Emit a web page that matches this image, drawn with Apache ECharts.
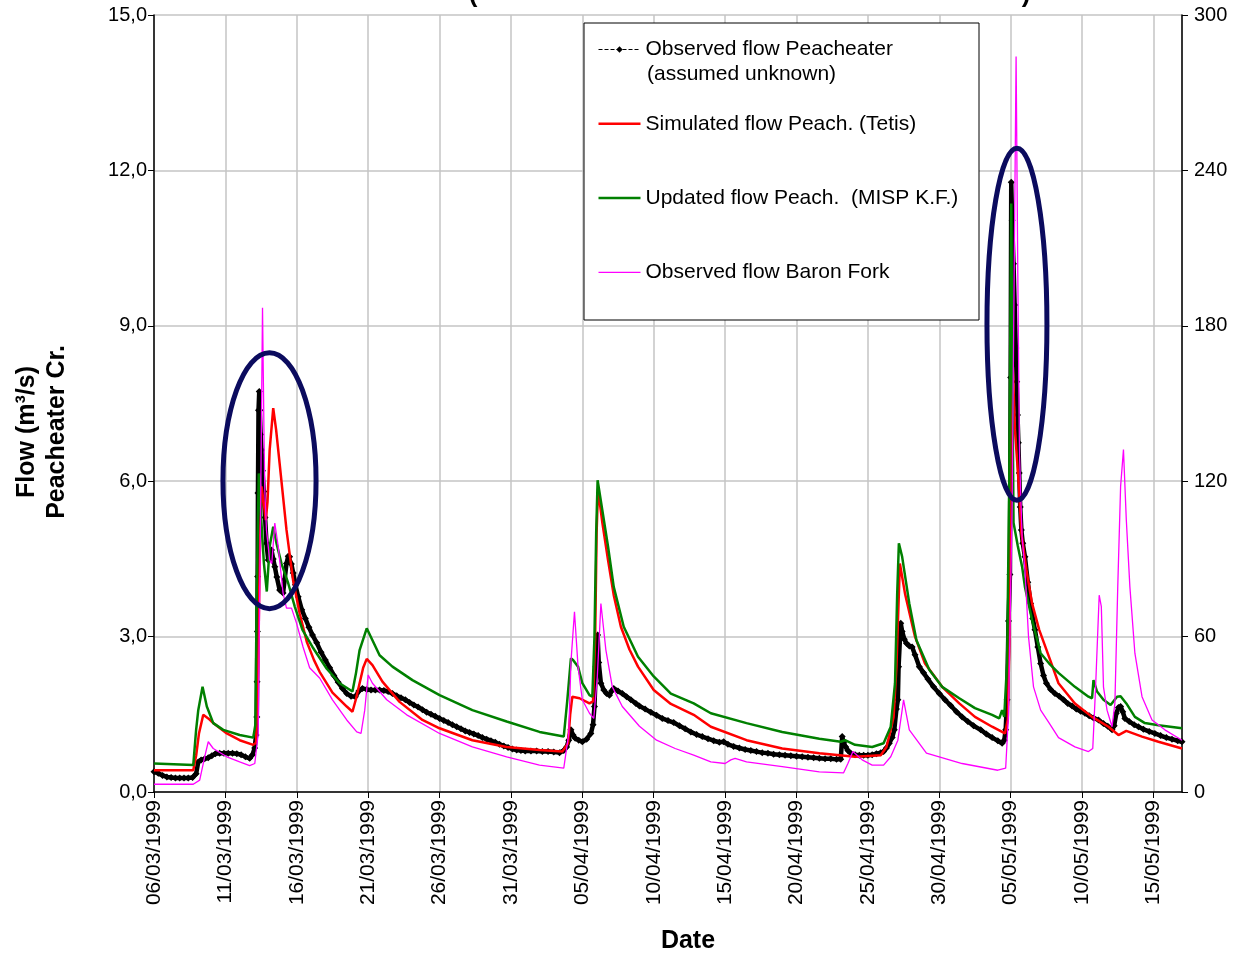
<!DOCTYPE html>
<html>
<head>
<meta charset="utf-8">
<title>Peacheater Creek - observed, simulated and updated flows</title>
<script src="https://cdn.jsdelivr.net/npm/echarts@6/dist/echarts.min.js"></script>
<style>
  html, body { margin: 0; padding: 0; background: #fff; }
  #chart { width: 1235px; height: 953px; }
</style>
</head>
<body>
<div id="chart"></div>
<script>
// x = days since 06/03/1999 00:00
const xTickLabels = ['06/03/1999', '11/03/1999', '16/03/1999', '21/03/1999', '26/03/1999',
  '31/03/1999', '05/04/1999', '10/04/1999', '15/04/1999', '20/04/1999', '25/04/1999',
  '30/04/1999', '05/05/1999', '10/05/1999', '15/05/1999'];
const leftTickLabels = ['0,0', '3,0', '6,0', '9,0', '12,0', '15,0'];
const rightTickLabels = ['0', '60', '120', '180', '240', '300'];

const seriesNames = ['Observed flow Peacheater', 'Simulated flow Peach. (Tetis)',
  'Updated flow Peach.  (MISP K.F.)', 'Observed flow Baron Fork'];

// Peacheater Cr., m3/s (left axis)
const observedPeacheater = [
  [0, 0.39], [0.3, 0.36], [0.6, 0.32], [0.9, 0.29], [1.2, 0.28], [1.5, 0.27], [1.8, 0.27],
  [2.1, 0.27], [2.4, 0.27], [2.7, 0.28], [2.95, 0.35], [3.1, 0.58], [3.3, 0.62], [3.55, 0.64],
  [3.8, 0.66], [4.05, 0.7], [4.3, 0.74], [4.6, 0.75], [4.9, 0.75], [5.2, 0.75], [5.5, 0.75],
  [5.8, 0.74], [6.1, 0.72], [6.4, 0.68], [6.7, 0.65], [6.9, 0.72], [7.05, 0.85], [7.15, 1.1],
  [7.2, 1.45], [7.22, 2.13], [7.24, 3.1], [7.26, 4.16], [7.28, 5.77], [7.32, 7.37], [7.37, 7.73],
  [7.41, 7.37], [7.47, 6.9], [7.53, 6.6], [7.6, 6.2], [7.69, 5.8], [7.78, 5.3], [7.88, 4.8],
  [8.0, 4.48], [8.12, 4.55], [8.23, 4.67], [8.35, 4.5], [8.46, 4.35], [8.6, 4.15], [8.8, 3.9],
  [9.04, 3.84], [9.15, 4.1], [9.28, 4.41], [9.4, 4.55], [9.5, 4.54], [9.62, 4.4], [9.75, 4.23],
  [9.9, 4.0], [10.1, 3.77], [10.35, 3.52], [10.6, 3.35], [10.85, 3.18], [11.1, 3.03], [11.4, 2.88],
  [11.7, 2.7], [12.0, 2.55], [12.3, 2.4], [12.6, 2.25], [12.9, 2.12], [13.2, 2.0], [13.5, 1.9],
  [13.8, 1.85], [14.1, 1.84], [14.35, 1.95], [14.6, 2.0], [14.9, 1.98], [15.2, 1.97], [15.5, 1.97],
  [15.8, 1.97], [16.1, 1.96], [16.4, 1.94], [16.7, 1.9], [17.0, 1.86], [17.3, 1.82], [17.6, 1.78],
  [17.9, 1.73], [18.2, 1.68], [18.5, 1.64], [18.8, 1.59], [19.1, 1.54], [19.4, 1.5], [19.7, 1.46],
  [20.0, 1.42], [20.3, 1.38], [20.6, 1.34], [20.9, 1.3], [21.2, 1.26], [21.5, 1.22], [21.8, 1.18],
  [22.1, 1.15], [22.4, 1.12], [22.7, 1.09], [23.0, 1.05], [23.3, 1.02], [23.6, 0.99], [23.9, 0.96],
  [24.2, 0.92], [24.5, 0.89], [24.8, 0.86], [25.1, 0.83], [25.4, 0.81], [25.7, 0.8], [26.0, 0.79],
  [26.4, 0.79], [26.8, 0.79], [27.2, 0.78], [27.6, 0.78], [28.0, 0.77], [28.4, 0.76], [28.7, 0.8],
  [28.9, 0.87], [29.05, 1.0], [29.2, 1.2], [29.35, 1.1], [29.5, 1.04], [29.75, 1.0], [30.0, 0.97],
  [30.3, 1.02], [30.6, 1.13], [30.75, 1.3], [30.85, 1.65], [30.95, 2.42], [31.07, 3.03],
  [31.15, 2.5], [31.3, 2.1], [31.5, 1.97], [31.7, 1.9], [31.9, 1.87], [32.05, 1.95], [32.2, 2.0],
  [32.5, 1.95], [32.8, 1.9], [33.1, 1.84], [33.4, 1.78], [33.75, 1.71], [34.0, 1.66], [34.4, 1.6],
  [34.8, 1.54], [35.2, 1.48], [35.6, 1.42], [36.0, 1.38], [36.4, 1.34], [36.8, 1.28], [37.2, 1.22],
  [37.6, 1.16], [38.0, 1.11], [38.4, 1.07], [38.8, 1.03], [39.2, 0.99], [39.6, 0.96], [39.9, 0.97],
  [40.2, 0.92], [40.6, 0.88], [41.0, 0.85], [41.4, 0.82], [41.8, 0.8], [42.2, 0.78], [42.6, 0.76],
  [43.0, 0.75], [43.4, 0.73], [43.8, 0.72], [44.2, 0.71], [44.6, 0.7], [45.0, 0.69], [45.4, 0.68],
  [45.8, 0.67], [46.2, 0.66], [46.6, 0.65], [47.0, 0.64], [47.4, 0.64], [47.8, 0.63], [48.1, 0.63],
  [48.2, 1.07], [48.3, 0.95], [48.45, 0.87], [48.6, 0.8], [48.8, 0.75], [49.1, 0.72], [49.4, 0.71],
  [49.7, 0.71], [50.0, 0.71], [50.3, 0.72], [50.6, 0.74], [50.9, 0.76], [51.1, 0.78], [51.3, 0.85],
  [51.5, 0.94], [51.7, 1.05], [51.85, 1.2], [52.0, 1.6], [52.1, 1.78], [52.15, 2.42], [52.3, 3.26],
  [52.4, 3.1], [52.55, 2.95], [52.7, 2.87], [52.9, 2.82], [53.1, 2.8], [53.3, 2.65], [53.6, 2.42],
  [53.9, 2.3], [54.2, 2.18], [54.6, 2.03], [55.0, 1.9], [55.4, 1.78], [55.8, 1.67], [56.2, 1.55],
  [56.6, 1.45], [57.0, 1.36], [57.4, 1.28], [57.9, 1.2], [58.3, 1.12], [58.7, 1.05], [59.1, 0.99],
  [59.4, 0.94], [59.55, 1.0], [59.65, 1.2], [59.75, 1.78], [59.85, 3.3], [59.95, 4.2], [60.0, 8.0],
  [60.04, 11.77], [60.1, 11.04], [60.2, 10.2], [60.28, 9.4], [60.36, 8.57], [60.42, 7.92],
  [60.48, 7.28], [60.54, 6.74], [60.6, 6.16], [60.67, 5.5], [60.75, 5.06], [60.85, 4.8],
  [61.0, 4.54], [61.2, 4.05], [61.4, 3.64], [61.55, 3.35], [61.7, 3.13], [61.9, 2.8], [62.1, 2.48],
  [62.3, 2.25], [62.5, 2.1], [62.8, 1.98], [63.1, 1.9], [63.4, 1.85], [63.7, 1.78], [64.0, 1.71],
  [64.3, 1.66], [64.6, 1.6], [64.9, 1.56], [65.2, 1.52], [65.5, 1.47], [65.8, 1.43], [66.15, 1.39],
  [66.5, 1.32], [66.8, 1.27], [67.1, 1.2], [67.25, 1.28], [67.4, 1.52], [67.55, 1.63], [67.7, 1.65],
  [67.85, 1.55], [68.0, 1.42], [68.3, 1.36], [68.65, 1.3], [68.95, 1.26], [69.3, 1.21], [69.7, 1.17],
  [70.1, 1.13], [70.5, 1.09], [70.9, 1.05], [71.3, 1.02], [71.7, 0.99], [72.0, 0.97]
];

const simulatedTetis = [
  [0, 0.42], [2.75, 0.42], [2.95, 0.7], [3.15, 1.13], [3.45, 1.49], [3.8, 1.42], [4.15, 1.33],
  [5.1, 1.13], [6.0, 1.0], [6.95, 0.91], [7.15, 0.95], [7.3, 2.5], [7.4, 4.5], [7.53, 5.9],
  [7.68, 5.6], [7.83, 5.25], [7.95, 5.6], [8.1, 6.6], [8.35, 7.41], [8.55, 7.0], [8.8, 6.34],
  [9.28, 5.06], [9.74, 4.09], [10.2, 3.45], [10.7, 2.9], [11.2, 2.55], [11.6, 2.32], [12.5, 1.92],
  [13.5, 1.65], [13.9, 1.55], [14.15, 1.8], [14.4, 2.1], [14.65, 2.4], [14.9, 2.57], [15.3, 2.45],
  [16.0, 2.13], [17.2, 1.74], [18.8, 1.39], [20.0, 1.23], [22.3, 1.0], [24.7, 0.87], [27.0, 0.81],
  [28.6, 0.78], [29.0, 0.94], [29.15, 1.5], [29.3, 1.84], [29.8, 1.81], [30.5, 1.71], [30.75, 1.75],
  [30.9, 3.0], [31.0, 5.0], [31.1, 5.85], [31.4, 5.2], [31.8, 4.48], [32.2, 3.8], [32.7, 3.19],
  [33.3, 2.75], [33.9, 2.42], [35.0, 1.97], [36.2, 1.7], [37.8, 1.49], [39.0, 1.26], [41.5, 1.0],
  [44.0, 0.84], [46.6, 0.75], [49.1, 0.68], [50.9, 0.71], [51.3, 0.87], [51.6, 1.2], [51.8, 1.45],
  [52.0, 2.42], [52.24, 4.41], [52.6, 3.83], [53.3, 3.0], [54.0, 2.48], [55.2, 2.03], [56.4, 1.71],
  [57.5, 1.45], [58.7, 1.26], [59.6, 1.13], [59.8, 1.4], [59.92, 3.0], [60.0, 7.0], [60.05, 8.9],
  [60.15, 8.2], [60.3, 7.0], [60.55, 6.0], [60.75, 5.0], [61.1, 4.29], [61.5, 3.64], [62.0, 3.13],
  [62.7, 2.6], [63.35, 2.1], [64.5, 1.71], [65.7, 1.45], [66.85, 1.26], [67.55, 1.1], [68.1, 1.18],
  [69.2, 1.07], [70.35, 0.97], [72.0, 0.84]
];

const updatedMispKF = [
  [0, 0.55], [2.75, 0.52], [2.95, 1.2], [3.1, 1.58], [3.4, 2.03], [3.7, 1.65], [4.15, 1.33],
  [4.85, 1.2], [6.0, 1.1], [6.95, 1.05], [7.1, 1.3], [7.2, 4.0], [7.34, 6.15], [7.5, 5.31],
  [7.7, 4.41], [7.9, 3.87], [8.1, 4.74], [8.35, 5.12], [8.58, 4.8], [8.93, 4.41], [9.4, 4.03],
  [9.86, 3.58], [10.4, 3.13], [11.1, 2.8], [12.1, 2.38], [13.0, 2.1], [13.9, 1.94], [14.15, 2.3],
  [14.4, 2.74], [14.9, 3.16], [15.3, 2.93], [15.8, 2.64], [16.7, 2.42], [18.1, 2.16], [20.0, 1.87],
  [22.3, 1.58], [24.7, 1.36], [27.0, 1.16], [28.7, 1.07], [28.95, 1.78], [29.2, 2.58], [29.35, 2.55],
  [29.7, 2.42], [30.0, 2.1], [30.5, 1.87], [30.7, 1.84], [30.85, 3.0], [30.97, 5.0], [31.07, 6.02],
  [31.4, 5.44], [31.8, 4.74], [32.2, 3.96], [32.9, 3.19], [33.9, 2.61], [35.0, 2.23], [36.2, 1.9],
  [37.8, 1.71], [39.0, 1.52], [41.5, 1.33], [44.0, 1.16], [46.6, 1.03], [48.1, 0.97], [48.4, 1.0],
  [49.1, 0.91], [50.3, 0.87], [51.1, 0.94], [51.6, 1.26], [51.9, 2.1], [52.05, 3.8], [52.17, 4.8],
  [52.4, 4.54], [52.9, 3.64], [53.4, 2.93], [54.3, 2.36], [55.2, 2.03], [56.4, 1.81], [57.5, 1.62],
  [58.7, 1.49], [59.2, 1.42], [59.4, 1.58], [59.55, 1.45], [59.75, 2.5], [59.9, 6.0], [60.04, 11.36],
  [60.12, 8.0], [60.2, 5.2], [60.5, 4.75], [60.8, 4.35], [61.0, 3.96], [61.5, 3.32], [62.1, 2.68],
  [62.7, 2.48], [63.35, 2.3], [64.5, 2.03], [65.45, 1.84], [65.7, 1.81], [65.8, 2.16], [66.05, 1.94],
  [66.5, 1.78], [67.0, 1.68], [67.45, 1.84], [67.7, 1.85], [68.1, 1.71], [68.7, 1.45], [69.4, 1.33],
  [70.35, 1.29], [72.0, 1.23]
];

// Baron Fork, m3/s (right axis)
const observedBaronFork = [
  [0, 3.0], [2.75, 3.0], [3.2, 4.6], [3.55, 13.6], [3.8, 19.4], [4.15, 16.8], [5.1, 13.6],
  [6.0, 11.6], [6.7, 10.2], [7.06, 11.0], [7.3, 22.6], [7.45, 100], [7.6, 187], [7.7, 140],
  [7.76, 116.6], [7.88, 101], [8.1, 89.6], [8.25, 88.2], [8.46, 103.8], [8.7, 94.8], [9.04, 76.8],
  [9.28, 71], [9.63, 71], [9.98, 65.2], [10.44, 56], [10.9, 48], [11.6, 44], [12.5, 35.6],
  [13.5, 27.8], [14.2, 23.2], [14.5, 22.6], [14.76, 31.6], [15.0, 45.2], [15.3, 42], [16.3, 35.6],
  [17.7, 29.8], [20.0, 22.6], [22.3, 17.4], [24.7, 13.6], [27.0, 10.4], [28.7, 9.2], [29.05, 22.6],
  [29.2, 50], [29.45, 69.6], [29.7, 48.4], [30.0, 35.6], [30.5, 30.4], [30.8, 28.4], [31.05, 44.6],
  [31.3, 72.8], [31.65, 54.8], [32.1, 40.6], [32.8, 33], [34.0, 25.4], [35.2, 20], [36.5, 16.8],
  [37.8, 14.2], [39.0, 11.6], [40.0, 11], [40.4, 12.4], [40.7, 13], [41.5, 11.6], [44.0, 9.8],
  [46.6, 7.8], [48.3, 7.4], [48.6, 11], [48.95, 15.6], [49.6, 12.4], [50.3, 10.4], [51.1, 10.4],
  [51.6, 13.6], [52.1, 20], [52.5, 35.6], [52.9, 24], [54.1, 15], [56.6, 11], [59.1, 8.4],
  [59.65, 9.2], [59.85, 30], [60.1, 110], [60.38, 284], [60.5, 200], [60.62, 130], [60.8, 98.6],
  [61.0, 85.8], [61.25, 60], [61.6, 40.6], [62.1, 31.6], [62.7, 26.6], [63.35, 21], [64.5, 17.4],
  [65.45, 15.6], [65.75, 16.8], [65.95, 40.6], [66.2, 76], [66.35, 71.6], [66.5, 40.6],
  [66.75, 31.6], [67.1, 25.2], [67.3, 34.2], [67.5, 79.2], [67.7, 118], [67.9, 132.2], [68.1, 105],
  [68.35, 79.2], [68.7, 53.6], [69.2, 36.8], [69.9, 27.8], [70.8, 24], [72.0, 20]
];

// circled events, in axis units: [day, flow] centre and radii
const highlightEllipses = [
  { center: [8.09, 6.01], radius: [3.26, 2.47] },
  { center: [60.44, 9.03], radius: [2.1, 3.4] }
];

const FONT = '"Liberation Sans", Arial, sans-serif';
const GRID_GRAY = '#c4c4c4';
const lineIcon = h => 'path://M0 0H42V' + h + 'H0Z';

const chart = echarts.init(document.getElementById('chart'));

const option = {
  animation: false,
  backgroundColor: '#fff',
  textStyle: { fontFamily: FONT, color: '#000' },
  grid: { left: 154, right: 53, top: 15, bottom: 161, containLabel: false, outerBoundsMode: 'none' },
  legend: {
    orient: 'vertical',
    left: 598,
    top: 39,
    padding: 0,
    itemWidth: 42,
    itemHeight: 8,
    itemGap: 53.3,
    itemTextGap: 7,
    selectedMode: false,
    z: 6,
    textStyle: { fontFamily: FONT, fontSize: 21, lineHeight: 21, color: '#000' },
    data: [
      { name: seriesNames[0], lineStyle: { width: 1, type: 'dashed' } },
      { name: seriesNames[1], icon: lineIcon(2.5) },
      { name: seriesNames[2], icon: lineIcon(2.5) },
      { name: seriesNames[3], icon: lineIcon(1.3) }
    ]
  },
  xAxis: {
    type: 'value',
    min: 0,
    max: 72,
    interval: 5,
    name: 'Date',
    nameLocation: 'middle',
    nameGap: 137,
    nameTextStyle: { fontFamily: FONT, fontSize: 25, fontWeight: 'bold', color: '#000', padding: [0, 0, 0, 40] },
    axisLine: { lineStyle: { color: '#000', width: 1.5 } },
    axisTick: { show: true, inside: false, length: 6, lineStyle: { color: '#000' } },
    axisLabel: {
      rotate: 90,
      margin: 8,
      fontSize: 21,
      color: '#000',
      showMaxLabel: false,
      formatter: v => (v % 5 === 0 ? xTickLabels[v / 5] || '' : '')
    },
    splitLine: { show: true, lineStyle: { color: GRID_GRAY, width: 1.5 } }
  },
  yAxis: [
    {
      type: 'value',
      position: 'left',
      min: 0,
      max: 15,
      interval: 3,
      name: 'Flow (m³/s)\nPeacheater Cr.',
      nameLocation: 'middle',
      nameGap: 82,
      nameTextStyle: { fontFamily: FONT, fontSize: 25, fontWeight: 'bold', color: '#000', lineHeight: 30, padding: [0, 57, 0, 0] },
      axisLine: { show: true, lineStyle: { color: '#000', width: 1.5 } },
      axisTick: { show: true, inside: false, length: 6, lineStyle: { color: '#000' } },
      axisLabel: { margin: 7, fontSize: 20, color: '#000', formatter: v => leftTickLabels[Math.round(v / 3)] },
      splitLine: { show: true, lineStyle: { color: GRID_GRAY, width: 1.5 } }
    },
    {
      type: 'value',
      position: 'right',
      min: 0,
      max: 300,
      interval: 60,
      axisLine: { show: true, lineStyle: { color: '#000', width: 1.5 } },
      axisTick: { show: true, inside: false, length: 6, lineStyle: { color: '#000' } },
      axisLabel: { margin: 12, fontSize: 20, color: '#000', formatter: v => rightTickLabels[Math.round(v / 60)] },
      splitLine: { show: false }
    }
  ],
  series: [
    {
      name: seriesNames[0],
      type: 'line',
      data: observedPeacheater,
      symbol: 'diamond',
      symbolSize: 7,
      itemStyle: { color: '#000' },
      lineStyle: { color: '#000', width: 4.5 },
      z: 2
    },
    {
      name: seriesNames[1],
      type: 'line',
      data: simulatedTetis,
      showSymbol: false,
      symbol: 'none',
      itemStyle: { color: '#ff0000' },
      lineStyle: { color: '#ff0000', width: 2.5 },
      z: 3
    },
    {
      name: seriesNames[2],
      type: 'line',
      data: updatedMispKF,
      showSymbol: false,
      symbol: 'none',
      itemStyle: { color: '#008000' },
      lineStyle: { color: '#008000', width: 2.5 },
      z: 3
    },
    {
      name: seriesNames[3],
      type: 'line',
      yAxisIndex: 1,
      data: observedBaronFork,
      showSymbol: false,
      symbol: 'none',
      itemStyle: { color: '#ff00ff' },
      lineStyle: { color: '#ff00ff', width: 1.3 },
      z: 3
    }
  ]
};

chart.setOption(option);

// legend frame, second legend line, cut-off title brackets and the event ellipses
const toPx = p => chart.convertToPixel({ xAxisIndex: 0, yAxisIndex: 0 }, p);

const ellipses = highlightEllipses.map(e => {
  const c = toPx(e.center);
  const edge = toPx([e.center[0] + e.radius[0], e.center[1] + e.radius[1]]);
  return {
    type: 'ellipse',
    z: 10,
    silent: true,
    shape: { cx: c[0], cy: c[1], rx: Math.abs(edge[0] - c[0]), ry: Math.abs(c[1] - edge[1]) },
    style: { fill: null, stroke: '#0b0b5e', lineWidth: 5 }
  };
});

chart.setOption({
  graphic: [
    {
      type: 'rect',
      z: 5,
      silent: true,
      shape: { x: 584, y: 23, width: 395, height: 297 },
      style: { fill: '#fff', stroke: '#000', lineWidth: 1 }
    },
    {
      type: 'text',
      z: 7,
      silent: true,
      x: 647,
      y: 74,
      style: { text: '(assumed unknown)', font: '21px ' + FONT, fill: '#000', textVerticalAlign: 'middle' }
    },
    {
      type: 'text',
      z: 7,
      silent: true,
      x: 473,
      y: -18,
      style: { text: '(', font: 'bold 26px ' + FONT, fill: '#000', textAlign: 'center', textVerticalAlign: 'top' }
    },
    {
      type: 'text',
      z: 7,
      silent: true,
      x: 1026,
      y: -18,
      style: { text: ')', font: 'bold 26px ' + FONT, fill: '#000', textAlign: 'center', textVerticalAlign: 'top' }
    },
    ...ellipses
  ]
});
</script>
</body>
</html>
